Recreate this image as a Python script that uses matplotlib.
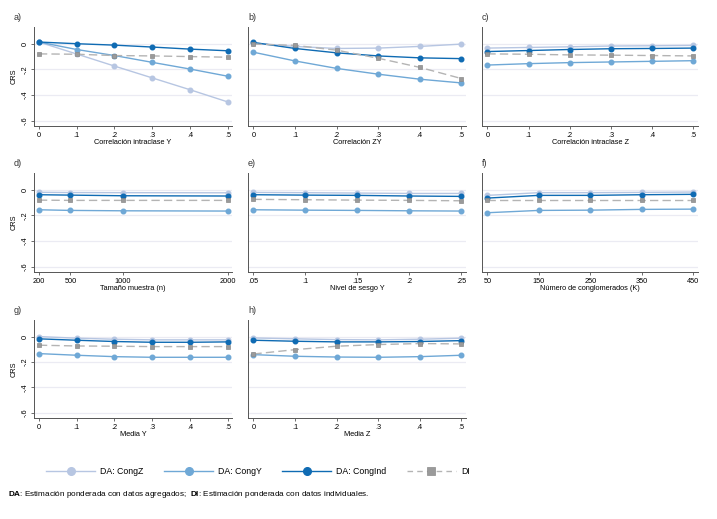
import numpy as np
import matplotlib
matplotlib.use("Agg")
import matplotlib.pyplot as plt
from matplotlib.lines import Line2D

plt.rcParams['font.family'] = ['Liberation Sans', 'DejaVu Sans']
plt.rcParams['mathtext.fontset'] = 'custom'
plt.rcParams['mathtext.rm'] = 'Liberation Sans'
plt.rcParams['mathtext.bf'] = 'Liberation Sans:bold'

# x values of each panel
x_a = [0, .1, .2, .3, .4, .5]
x_d = [200, 500, 1000, 2000]
x_e = [.05, .1, .15, .2, .25]
x_f = [50, 150, 250, 350, 450]

# CRS values per panel: CongZ, CongY, CongInd, DI
a_congz = [0.013, -0.08, -0.174, -0.266, -0.358, -0.453]
a_congy = [0.013, -0.045, -0.092, -0.145, -0.197, -0.253]
a_congind = [0.013, 0.0, -0.011, -0.026, -0.042, -0.055]
a_di = [-0.079, -0.082, -0.092, -0.095, -0.1, -0.105]

b_congz = [0.005, -0.021, -0.037, -0.034, -0.021, -0.003]
b_congy = [-0.066, -0.134, -0.192, -0.237, -0.276, -0.305]
b_congind = [0.01, -0.037, -0.071, -0.095, -0.11, -0.116]
b_di = [-0.003, -0.013, -0.05, -0.113, -0.184, -0.271]

c_congz = [-0.034, -0.029, -0.024, -0.018, -0.016, -0.013]
c_congy = [-0.166, -0.155, -0.147, -0.142, -0.137, -0.132]
c_congind = [-0.061, -0.053, -0.045, -0.039, -0.037, -0.034]
c_di = [-0.079, -0.082, -0.087, -0.089, -0.092, -0.095]

d_congz = [-0.020, -0.022, -0.023, -0.024]
d_congy = [-0.156, -0.161, -0.164, -0.166]
d_congind = [-0.039, -0.042, -0.047, -0.049]
d_di = [-0.081, -0.083, -0.083, -0.083]

e_congz = [-0.021, -0.023, -0.026, -0.029, -0.029]
e_congy = [-0.156, -0.159, -0.161, -0.164, -0.166]
e_congind = [-0.039, -0.042, -0.044, -0.049, -0.052]
e_di = [-0.075, -0.078, -0.081, -0.083, -0.086]

f_congz = [-0.044, -0.023, -0.023, -0.021, -0.018]
f_congy = [-0.179, -0.161, -0.159, -0.153, -0.151]
f_congind = [-0.065, -0.044, -0.044, -0.039, -0.036]
f_di = [-0.083, -0.083, -0.083, -0.083, -0.083]

g_congz = [0.0, -0.013, -0.021, -0.026, -0.026, -0.026]
g_congy = [-0.134, -0.147, -0.158, -0.163, -0.163, -0.163]
g_congind = [-0.018, -0.029, -0.039, -0.045, -0.045, -0.042]
g_di = [-0.068, -0.074, -0.076, -0.079, -0.079, -0.079]

h_congz = [-0.011, -0.018, -0.024, -0.026, -0.021, -0.013]
h_congy = [-0.142, -0.155, -0.161, -0.163, -0.158, -0.147]
h_congind = [-0.029, -0.037, -0.042, -0.042, -0.039, -0.032]
h_di = [-0.137, -0.103, -0.076, -0.063, -0.055, -0.058]

panels = [
    ("a)", x_a, [a_congz, a_congy, a_congind, a_di], "Correlación intraclase Y"),
    ("b)", x_a, [b_congz, b_congy, b_congind, b_di], "Correlación ZY"),
    ("c)", x_a, [c_congz, c_congy, c_congind, c_di], "Correlación intraclase Z"),
    ("d)", x_d, [d_congz, d_congy, d_congind, d_di], "Tamaño muestra (n)"),
    ("e)", x_e, [e_congz, e_congy, e_congind, e_di], "Nivel de sesgo Y"),
    ("f)", x_f, [f_congz, f_congy, f_congind, f_di], "Número de conglomerados (K)"),
    ("g)", x_a, [g_congz, g_congy, g_congind, g_di], "Media Y"),
    ("h)", x_a, [h_congz, h_congy, h_congind, h_di], "Media Z"),
]

c_z = "#b7c6e2"
c_y = "#6fa8d6"
c_ind = "#0f6bb3"
c_di = "#b4b4b4"
c_sq = "#9a9a9a"


def fmt(v):
    if float(v).is_integer():
        return str(int(v))
    return ("%g" % v).replace("0.", ".")


W, H = 717, 519
fig = plt.figure(figsize=(W / 100, H / 100), dpi=100)

col_x = [(34, 232), (248, 466), (482, 698)]
row_y = [(27, 126), (173, 272), (320, 418)]
title_x = [14, 248, 482]
ms = 3.3

for i, (tl, xs, series, xlabel) in enumerate(panels):
    r, c = divmod(i, 3)
    x0, x1 = col_x[c]
    y0, y1 = row_y[r]
    ax = fig.add_axes([x0 / W, 1 - y1 / H, (x1 - x0) / W, (y1 - y0) / H])
    for yv in [0, -.2, -.4, -.6]:
        ax.axhline(yv, color="#ebebf3", lw=0.9, zorder=0)
    ax.plot(xs, series[0], color=c_z, lw=1.0, marker="o", ms=ms, mec=c_z, zorder=2)
    ax.plot(xs, series[1], color=c_y, lw=1.0, marker="o", ms=ms, mec=c_y, zorder=3)
    ax.plot(xs, series[2], color=c_ind, lw=1.0, marker="o", ms=ms, mec=c_ind, zorder=4)
    ax.plot(xs, series[3], color=c_di, lw=1.0, ls=(0, (6, 3)), marker="s", ms=ms,
            mfc=c_sq, mec="#8a8a8a", mew=0.5, zorder=5)
    rng = xs[-1] - xs[0]
    ax.set_xlim(xs[0] - rng * 0.026, xs[-1] + rng * 0.022)
    ax.set_ylim(-0.64, 0.13)
    ax.set_xticks(xs)
    ax.set_xticklabels([fmt(v) for v in xs], fontsize=5.3)
    ax.set_yticks([0, -.2, -.4, -.6])
    for s in ["top", "right"]:
        ax.spines[s].set_visible(False)
    for s in ["left", "bottom"]:
        ax.spines[s].set_color("#555555")
        ax.spines[s].set_linewidth(0.7)
    ax.tick_params(axis="x", length=2.5, width=0.6, pad=1.5, color="#555555")
    if c == 0:
        ax.set_yticklabels(["0", "-.2", "-.4", "-.6"], fontsize=5.3, rotation=90, va="center")
        ax.tick_params(axis="y", length=2.5, width=0.6, pad=1.5, color="#555555")
        ax.set_ylabel("CRS", fontsize=5.3, labelpad=3)
    else:
        ax.set_yticklabels([])
        ax.tick_params(axis="y", length=0)
    ax.set_xlabel(xlabel, fontsize=5.3, labelpad=0.5)
    fig.text(title_x[c] / W, 1 - (y0 - 5) / H, tl, fontsize=6.5, ha="left", va="bottom", color="#333333")

handles = [
    Line2D([], [], color=c_z, lw=1.0, marker="o", ms=5.5, mec=c_z),
    Line2D([], [], color=c_y, lw=1.0, marker="o", ms=5.5, mec=c_y),
    Line2D([], [], color=c_ind, lw=1.0, marker="o", ms=5.5, mec=c_ind),
    Line2D([], [], color=c_di, lw=1.0, ls=(0, (4, 3)), marker="s", ms=5.5, mfc=c_sq, mec="#8a8a8a", mew=0.5),
]
labels = ["DA: CongZ", "DA: CongY", "DA: CongInd", "DI"]
fig.legend(handles, labels, loc="center", bbox_to_anchor=(258 / W, 1 - 472 / H), ncol=4,
           frameon=False, fontsize=6.3, handlelength=5.6, handletextpad=0.6,
           columnspacing=2.3, borderaxespad=0)

fig.text(8 / W, 1 - 494 / H,
         r"$\bf{DA}$: Estimación ponderada con datos agregados;  $\bf{DI}$: Estimación ponderada con datos individuales.",
         fontsize=5.9, ha="left", va="center")

fig.savefig("out.png", dpi=100, facecolor="white")
